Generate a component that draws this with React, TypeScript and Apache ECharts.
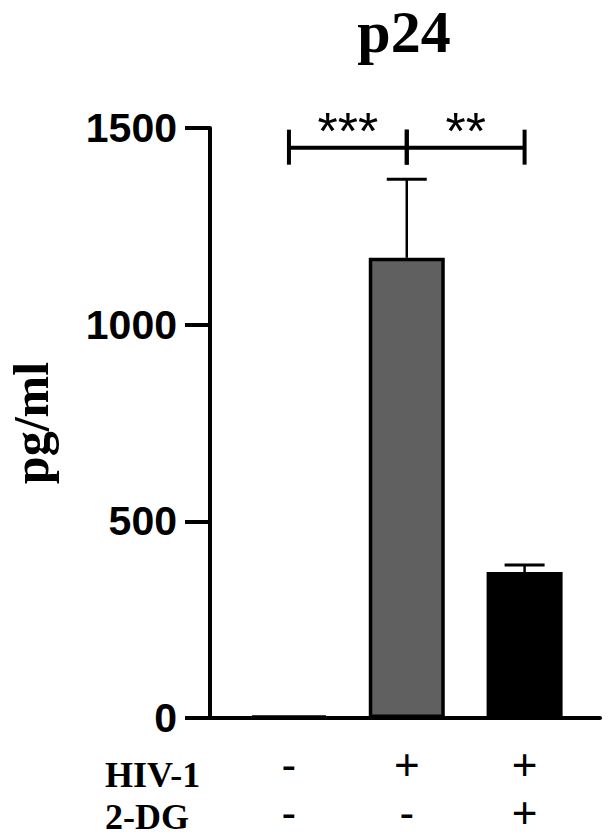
import React, { useEffect, useRef } from "react";
import * as echarts from "echarts";

const groups = [0, 1, 2];
const means = [5, 1170, 371];
const sds = [0, 200, 18];
const barColors = ["#ffffff", "#606060", "#000000"];
const hivSigns = ["-", "+", "+"];
const dgSigns = ["-", "-", "+"];
const rowLabels = ["HIV-1", "2-DG"];
const yTicks = [0, 500, 1000, 1500];
const comparisons: [number, number, string][] = [
  [0, 1, "***"],
  [1, 2, "**"],
];
const bracketLevel = 1450;

export default function App() {
  const ref = useRef<HTMLDivElement>(null);
  useEffect(() => {
    if (!ref.current) return;
    const chart = echarts.init(ref.current, undefined, { renderer: "svg" });
    const serif = "Liberation Serif, Times New Roman, serif";
    const sans = "Liberation Sans, Arial, sans-serif";
    chart.setOption({
      animation: false,
      backgroundColor: "#ffffff",
      title: {
        text: "p24",
        left: 404,
        textAlign: "center",
        top: 1,
        padding: 0,
        textStyle: { fontFamily: serif, fontWeight: "bold", fontSize: 60, lineHeight: 62, color: "#000" },
      },
      grid: { left: 210, top: 128, width: 390, height: 590, containLabel: false, outerBoundsMode: "none" },
      xAxis: {
        type: "value",
        min: -0.67,
        max: 2.64,
        splitLine: { show: false },
        axisLine: { show: true, onZero: false, lineStyle: { color: "#000", width: 4 } },
        axisTick: { show: false },
        axisLabel: {
          show: true,
          customValues: groups,
          margin: 22,
          formatter: (v: number) => {
            const i = Math.round(v);
            return `{a|${hivSigns[i]}}\n{a|${dgSigns[i]}}`;
          },
          rich: {
            a: { fontFamily: sans, fontWeight: "normal", fontSize: 44, lineHeight: 48, color: "#000" },
          },
        },
      },
      yAxis: {
        type: "value",
        min: 0,
        max: 1500,
        interval: 500,
        name: "pg/ml",
        nameLocation: "middle",
        nameRotate: 90,
        nameGap: 154,
        nameTextStyle: { fontFamily: serif, fontWeight: "bold", fontSize: 50, color: "#000" },
        splitLine: { show: false },
        axisLine: { show: true, onZero: false, lineStyle: { color: "#000", width: 4 } },
        axisTick: { show: true, length: 25, lineStyle: { color: "#000", width: 4 } },
        axisLabel: {
          margin: 33,
          fontFamily: sans,
          fontWeight: "bold",
          fontSize: 41,
          color: "#000",
          formatter: (v: number) => (yTicks.includes(v) ? String(v) : ""),
        },
      },
      graphic: rowLabels.map((t, i) => ({
        type: "text",
        x: 105,
        y: 775 + i * 42,
        style: {
          text: t,
          font: `bold 36px ${serif}`,
          fill: "#000",
          verticalAlign: "middle",
          align: "left",
        },
      })),
      series: [
        {
          type: "custom",
          z: 1,
          data: groups.map((g) => [g, means[g], sds[g]]),
          renderItem: (params: any, api: any) => {
            const x = api.value(0);
            const m = api.value(1);
            const s = api.value(2);
            if (!s) return null;
            const base = api.coord([x, m]);
            const top = api.coord([x, m + s]);
            return {
              type: "group",
              children: [
                { type: "line", shape: { x1: base[0], y1: base[1], x2: top[0], y2: top[1] }, style: { stroke: "#000", lineWidth: 2.5 } },
                { type: "line", shape: { x1: top[0] - 20, y1: top[1], x2: top[0] + 20, y2: top[1] }, style: { stroke: "#000", lineWidth: 3 } },
              ],
            };
          },
        },
        {
          type: "bar",
          z: 2,
          barWidth: 76,
          data: groups.map((g) => ({
            value: [g, means[g]],
            itemStyle: { color: barColors[g], borderColor: "#000", borderWidth: 3.5 },
          })),
        },
        {
          type: "custom",
          z: 3,
          clip: false,
          data: comparisons.map((c) => [c[0], c[1], bracketLevel]),
          renderItem: (params: any, api: any) => {
            const i = params.dataIndex;
            const a = api.coord([api.value(0), api.value(2)]);
            const b = api.coord([api.value(1), api.value(2)]);
            return {
              type: "group",
              children: [
                { type: "line", shape: { x1: a[0], y1: a[1], x2: b[0], y2: b[1] }, style: { stroke: "#000", lineWidth: 4 } },
                { type: "line", shape: { x1: a[0], y1: a[1] - 18, x2: a[0], y2: a[1] + 17 }, style: { stroke: "#000", lineWidth: 4 } },
                { type: "line", shape: { x1: b[0], y1: b[1] - 18, x2: b[0], y2: b[1] + 17 }, style: { stroke: "#000", lineWidth: 4 } },
                {
                  type: "text",
                  x: (a[0] + b[0]) / 2,
                  y: a[1] - 17,
                  style: {
                    text: comparisons[i][2],
                    font: `normal 52px ${sans}`,
                    fill: "#000",
                    align: "center",
                    verticalAlign: "middle",
                  },
                },
              ],
            };
          },
        },
      ],
    });
    return () => chart.dispose();
  }, []);
  return <div ref={ref} style={{ position: "absolute", left: 0, top: 0, width: 614, height: 838 }} />;
}
